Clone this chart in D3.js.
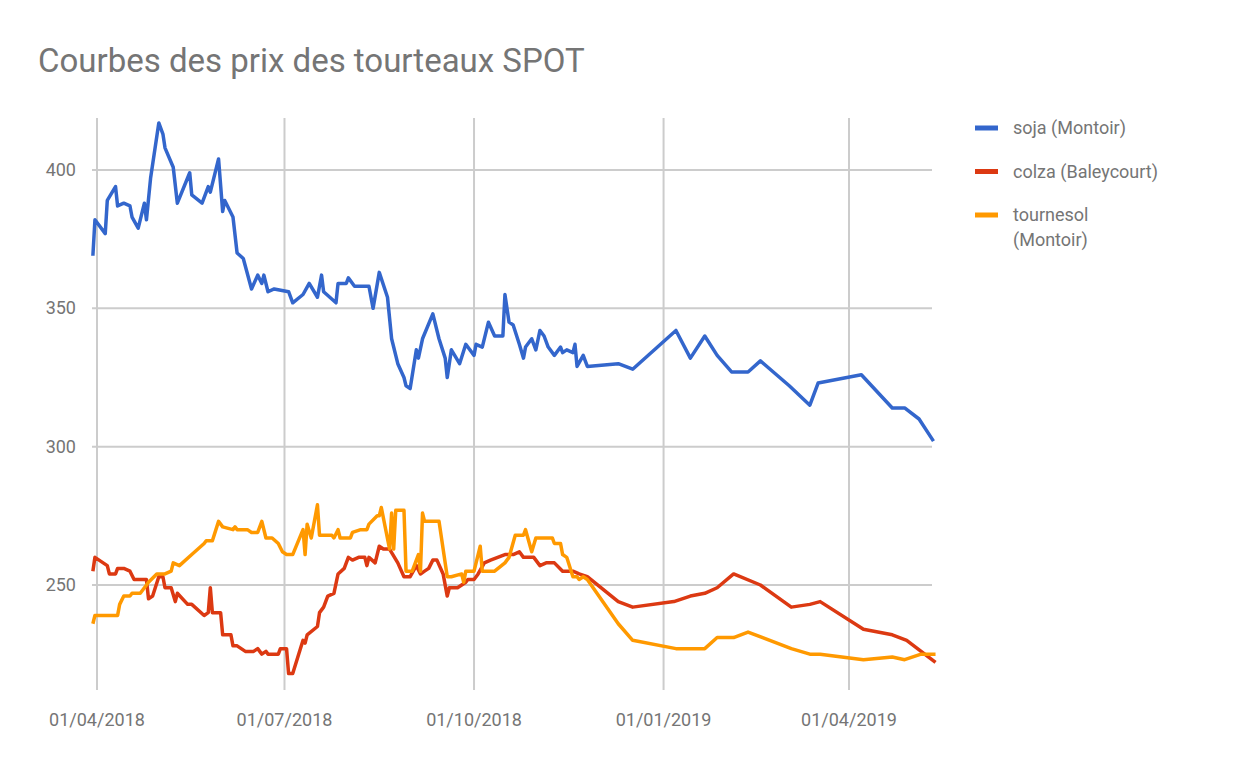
<!DOCTYPE html>
<html>
<head>
<meta charset="utf-8">
<script src="https://cdn.jsdelivr.net/npm/d3@7"></script>
<style>
  body { margin: 0; background: #fff; }
  text { font-family: Roboto, "Noto Sans", sans-serif; fill: #757575; }
  .grid line { stroke: #cccccc; stroke-width: 2; }
  .line { fill: none; stroke-width: 3.5; stroke-linejoin: round; }
</style>
</head>
<body>
<div id="plot"></div>
<script>
// days counted from 01/04/2018, values in EUR/t
const start = new Date(2018, 3, 1)

const sojaDays = [-2,-1,4,5,9,10,13,16,17,20,23,24,26,30,32,33,37,39,45,46,51,54,55,59,61,62,66,68,71,75,78,80,81,83,86,93,95,100,103,107,109,110,116,117,121,122,125,132,134,137,141,143,146,149,150,152,155,156,158,163,166,169,170,172,176,179,183,184,187,190,193,197,198,200,202,205,207,208,211,213,215,217,219,222,225,226,228,231,232,233,236,238,253,260,281,288,295,301,308,316,322,336,346,350,371,386,392,399,406]
const sojaVals = [369,382,377,389,394,387,388,387,383,379,388,382,397,417,413,408,401,388,399,391,388,394,392,404,385,389,383,370,368,357,362,359,362,356,357,356,352,355,359,354,362,356,352,359,359,361,358,358,350,363,354,339,330,325,322,321,335,332,339,348,339,332,325,335,330,337,333,337,336,345,340,340,355,345,344,337,332,336,339,335,342,340,336,333,336,334,335,334,337,329,333,329,330,328,342,332,340,333,327,327,331,322,315,323,326,314,314,310,302]

const colzaDays = [-2,-1,5,6,9,10,13,16,18,24,25,27,30,32,33,36,38,39,44,46,52,54,55,56,60,61,65,66,68,72,76,78,80,82,83,88,89,92,93,95,100,101,102,107,108,110,112,115,117,120,122,124,127,130,131,132,135,137,139,142,146,149,152,155,157,159,161,163,165,168,170,171,175,179,180,183,185,188,191,198,202,205,207,212,215,218,222,226,231,234,238,253,260,280,288,295,301,309,322,337,346,351,372,386,393,407]
const colzaVals = [255,260,257,254,254,256,256,255,252,252,245,246,253,253,249,249,244,247,243,243,239,240,249,240,240,232,232,228,228,226,226,227,225,226,225,225,227,227,218,218,230,229,232,235,240,242,246,247,254,256,260,259,260,260,257,260,258,264,263,263,258,253,253,257,254,255,256,259,259,254,246,249,249,251,252,252,254,258,259,261,261,262,260,260,257,258,258,255,255,254,253,244,242,244,246,247,249,254,250,242,243,244,234,232,230,222]

const tourDays = [-2,-1,10,11,13,16,17,21,25,29,33,36,37,40,46,52,53,56,59,61,66,67,68,73,75,78,80,82,85,88,90,92,95,100,101,102,104,107,108,114,115,117,118,123,124,128,131,132,136,137,138,142,143,144,145,149,150,153,156,157,158,159,166,170,172,177,178,179,183,186,187,193,198,200,203,207,208,211,213,221,222,225,226,228,231,233,234,236,238,253,260,281,295,301,309,316,337,346,351,372,386,392,400,407]
const tourVals = [236,239,239,243,246,246,247,247,251,254,254,255,258,257,261,265,266,266,273,271,270,271,270,270,269,269,273,267,267,265,262,261,261,270,261,272,267,279,268,268,267,270,267,267,269,270,270,272,275,275,278,263,276,263,277,277,255,255,261,255,276,273,273,253,253,254,251,255,255,264,255,255,258,260,268,268,270,262,267,267,265,265,261,260,253,253,252,253,252,236,230,227,227,231,231,233,227,225,225,223,224,223,225,225]

const series = [
  {name: ["soja (Montoir)"], color: "#3366cc", days: sojaDays, vals: sojaVals},
  {name: ["colza (Baleycourt)"], color: "#dc3912", days: colzaDays, vals: colzaVals},
  {name: ["tournesol", "(Montoir)"], color: "#ff9900", days: tourDays, vals: tourVals}
]
const yTicks = [250, 300, 350, 400]
const xTicks = [new Date(2018, 3, 1), new Date(2018, 6, 1), new Date(2018, 9, 1), new Date(2019, 0, 1), new Date(2019, 3, 1)]

const w = 1246, h = 770,
    plot = {left: 92, right: 932, top: 118, bottom: 690},
    x = d3.scaleTime()
      .domain([new Date(2018, 3, 1), new Date(2019, 3, 1)])
      .range([97, 849]),
    y = d3.scaleLinear()
      .domain([250, 400])
      .range([585, 170])

const svg = d3.select("#plot").append("svg")
  .attr("width", w)
  .attr("height", h)

svg.append("text")
  .attr("x", 38)
  .attr("y", 72)
  .style("font-size", "33px")
  .text("Courbes des prix des tourteaux SPOT")

const grid = svg.append("g").attr("class", "grid")
grid.selectAll(".h").data(yTicks).join("line")
  .attr("x1", plot.left).attr("x2", plot.right)
  .attr("y1", d => y(d)).attr("y2", d => y(d))
grid.selectAll(".v").data(xTicks).join("line")
  .attr("x1", d => x(d)).attr("x2", d => x(d))
  .attr("y1", plot.top).attr("y2", plot.bottom)

svg.selectAll(".ylab").data(yTicks).join("text")
  .attr("x", 76)
  .attr("y", d => y(d) + 6)
  .style("text-anchor", "end")
  .style("font-size", "18px")
  .text(d => d)

const fmt = d3.timeFormat("%d/%m/%Y")
svg.selectAll(".xlab").data(xTicks).join("text")
  .attr("x", d => x(d))
  .attr("y", 726)
  .style("text-anchor", "middle")
  .style("font-size", "18px")
  .text(d => fmt(d))

const line = d3.line()
  .x(d => x(d3.timeDay.offset(start, d[0])))
  .y(d => y(d[1]))

series.forEach(s => {
  svg.append("path")
    .datum(s.days.map((d, i) => [d, s.vals[i]]))
    .attr("class", "line")
    .attr("stroke", s.color)
    .attr("d", line)
})

// legend
const leg = svg.append("g")
series.forEach((s, i) => {
  const ly = 128 + i * 43.5
  leg.append("line")
    .attr("x1", 975).attr("x2", 998)
    .attr("y1", ly).attr("y2", ly)
    .attr("stroke", s.color)
    .attr("stroke-width", 5)
  s.name.forEach((t, j) => {
    leg.append("text")
      .attr("x", 1013)
      .attr("y", ly + 6 + j * 25)
      .style("font-size", "18px")
      .text(t)
  })
})
</script>
</body>
</html>
